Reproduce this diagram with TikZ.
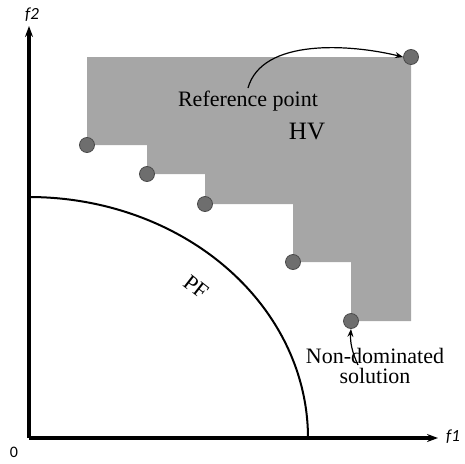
\documentclass[tikz,border=0pt]{standalone}
\usepackage{fontspec}
\setmainfont{Liberation Serif}
\newfontfamily\axfont{Carlito}
\usetikzlibrary{arrows.meta}
\definecolor{hvgray}{HTML}{A6A6A6}
\definecolor{ptfill}{HTML}{6E6E6E}
\definecolor{ptdraw}{HTML}{4A4A4A}
\tikzset{
  axisline/.style={line width=3.2pt,-{Stealth[length=11pt,width=8pt]}},
  solpt/.style={circle,fill=ptfill,draw=ptdraw,line width=0.8pt,minimum size=15pt,inner sep=0pt},
  serlabel/.style={font=\fontsize{22}{20}\selectfont,inner sep=0pt},
  biglabel/.style={font=\fontsize{25}{28}\selectfont,inner sep=0pt},
  axlabel/.style={font=\axfont\itshape\fontsize{17}{20}\selectfont,inner sep=0pt},
  pointer/.style={line width=1.2pt,-{Stealth[length=8pt,width=6pt,open]}}
}
\begin{document}
\begin{tikzpicture}[x=1pt,y=-1pt]
\useasboundingbox (0,0) rectangle (465,463);
% hypervolume region
\fill[hvgray] (87,57) -- (411,57) -- (411,321) -- (351,321) -- (351,262)
  -- (293,262) -- (293,204) -- (205,204) -- (205,174) -- (147,174)
  -- (147,145) -- (87,145) -- cycle;
% axes
\coordinate (o) at (29,438);
\coordinate (ytip) at (29,26);
\coordinate (xtip) at (438,438);
\draw[axisline] (o) -- (ytip);
\draw[axisline] (o) -- (xtip);
\node[axlabel] (f2) at (32,15) {f2};
\node[axlabel] (f1) at (453,437) {f1};
\node[font=\axfont\fontsize{16}{18}\selectfont,inner sep=0pt] (zero) at (14,452) {0};
% Pareto front
\draw[line width=2pt] plot[domain=90:0,samples=80,smooth] ({29+279*cos(\x)},{438-241*sin(\x)});
\node[font=\fontsize{22}{24}\selectfont,inner sep=0pt,rotate=-38] (pf) at (196,287) {PF};
% points
\node[solpt] (p1) at (87,145) {};
\node[solpt] (p2) at (147,174) {};
\node[solpt] (p3) at (205,204) {};
\node[solpt] (p4) at (293,262) {};
\node[solpt] (p5) at (351,321) {};
\node[solpt] (rp) at (411,57) {};
% labels
\node[serlabel,anchor=base] (reflab) at (248,106) {Reference point};
\node[biglabel,anchor=base] (hv) at (307,139) {HV};
\node[serlabel,anchor=base,align=center] (ndlab) at (375,383) {Non-dominated\\solution};
% pointers
\coordinate (rs) at (248,88);
\draw[pointer] (rs) .. controls (262,38) and (350,44) .. (rp.west);
\coordinate (ns) at (358,365);
\draw[pointer] (ns) .. controls (352,352) and (350,342) .. (p5.south);
\end{tikzpicture}
\end{document}
